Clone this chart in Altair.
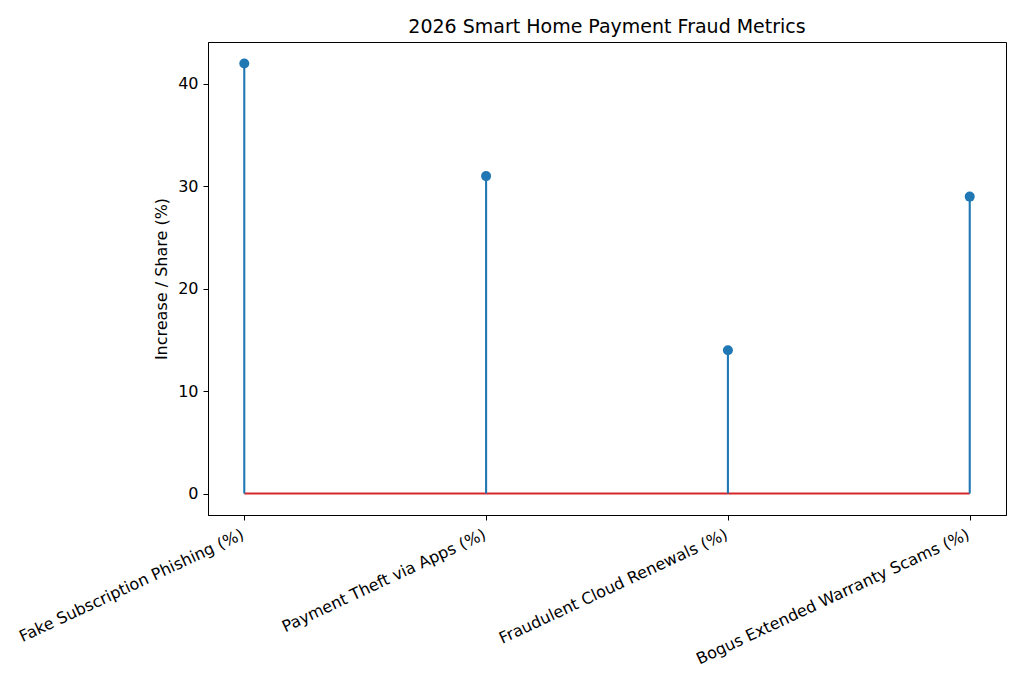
import altair as alt
import pandas as pd

categories = ["Fake Subscription Phishing (%)", "Payment Theft via Apps (%)",
              "Fraudulent Cloud Renewals (%)", "Bogus Extended Warranty Scams (%)"]
values = [42, 31, 14, 29]

df = pd.DataFrame({"cat": categories, "val": values, "zero": [0] * len(values)})
base_df = pd.DataFrame({"a": [categories[0]], "b": [categories[-1]], "y": [0]})

xscale = alt.Scale(type="point", domain=categories, padding=0.15)
yscale = alt.Scale(domain=[-2.1, 44.1], nice=False, zero=False)

xaxis = alt.Axis(title=None, labelAngle=335, labelAlign="right", labelBaseline="top",
                 labelFontSize=16, labelColor="black", tickColor="black", domainColor="black",
                 tickSize=5, labelPadding=6, labelOffset=-5, grid=False,
                 labelFont="DejaVu Sans", labelLimit=0)
yaxis = alt.Axis(title="Increase / Share (%)", values=[0, 10, 20, 30, 40], labelFontSize=16,
                 titleFontSize=16, titleFontWeight="normal", labelColor="black", titleColor="black",
                 tickColor="black", domainColor="black", tickSize=5, labelPadding=5, grid=False,
                 labelFont="DejaVu Sans", titleFont="DejaVu Sans", titlePadding=8)

stems = alt.Chart(df).mark_rule(color="#1f77b4", strokeWidth=2.1).encode(
    x=alt.X("cat:N", scale=xscale, axis=xaxis, sort=categories),
    y=alt.Y("zero:Q", scale=yscale, axis=yaxis),
    y2="val:Q",
)
dots = alt.Chart(df).mark_circle(color="#1f77b4", size=100, opacity=1).encode(
    x=alt.X("cat:N", scale=xscale, sort=categories),
    y=alt.Y("val:Q", scale=yscale),
)
baseline = alt.Chart(base_df).mark_rule(color="#d62728", strokeWidth=2.1).encode(
    x=alt.X("a:N", scale=xscale),
    x2="b:N",
    y=alt.Y("y:Q", scale=yscale),
)

chart = alt.layer(baseline, stems, dots).properties(
    width=798, height=473,
    title=alt.TitleParams("2026 Smart Home Payment Fraud Metrics", fontSize=19,
                          fontWeight="normal", font="DejaVu Sans", color="black", offset=5),
    autosize=alt.AutoSizeParams(type="none"),
    padding={"left": 200, "top": 34, "right": 10, "bottom": 160},
).configure(background="white").configure_view(stroke="black", strokeWidth=1)

chart.save("out.html", embed_options={"renderer": "svg", "actions": False})
